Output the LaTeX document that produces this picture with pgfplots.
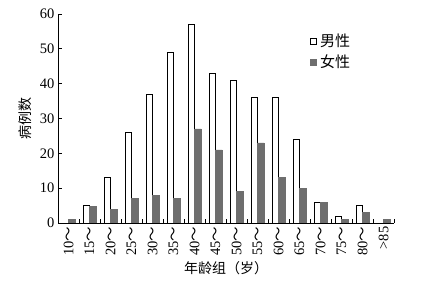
\documentclass[border=0pt]{standalone}
\usepackage{pgfplots}
\pgfplotsset{compat=1.18}
\usepackage{fontspec}
\setmainfont{Liberation Serif}
\newfontfamily\cjk{Noto Sans CJK SC}
\definecolor{fem}{HTML}{6E6E6E}
\begin{document}
\begin{tikzpicture}
\begin{axis}[
  scale only axis, width=336pt, height=209pt,
  xmin=-0.5, xmax=15.5, ymin=0, ymax=60,
  axis x line*=bottom, axis y line*=left,
  axis line style={black, line width=0.9pt},
  tick align=inside,
  xtick={0,...,15},
  xticklabels={10{\cjk ～},15{\cjk ～},20{\cjk ～},25{\cjk ～},30{\cjk ～},35{\cjk ～},40{\cjk ～},45{\cjk ～},50{\cjk ～},55{\cjk ～},60{\cjk ～},65{\cjk ～},70{\cjk ～},75{\cjk ～},80{\cjk ～},{>}85},
  major x tick style={draw=none},
  minor xtick={-0.5,0.5,...,15.5},
  minor tick length=4pt,
  minor x tick style={black, line width=0.8pt},
  ytick={0,10,...,60},
  major tick length=4pt,
  y tick style={black, line width=0.8pt},
  xticklabel style={rotate=90, anchor=east, font=\fontsize{14.5}{16}\selectfont},
  yticklabel style={font=\fontsize{14.5}{16}\selectfont},
  /pgf/number format/assume math mode=true,
  xlabel={\cjk 年龄组（岁）},
  xlabel style={font=\fontsize{14}{16}\selectfont, yshift=1pt},
  ylabel={\cjk 病例数},
  ylabel style={font=\fontsize{14}{16}\selectfont, yshift=1pt},
  legend style={at={(0.75,0.915)}, anchor=north west, draw=none, fill=none,
    font=\cjk\fontsize{15}{17}\selectfont, row sep=3pt,
    inner sep=0pt, nodes={inner xsep=3pt}},
  legend cell align=left,
]
\addplot[ybar, bar width=6.5pt, bar shift=-3.25pt, fill=white, draw=black, line width=0.9pt,
  legend image code/.code={\draw[black, fill=white, line width=0.8pt] (0pt,-3pt) rectangle (6pt,3pt);}]
  coordinates {(1,5) (2,13) (3,26) (4,37) (5,49) (6,57) (7,43) (8,41) (9,36) (10,36) (11,24) (12,6) (13,2) (14,5)};
\addlegendentry{男性}
\addplot[ybar, bar width=6.5pt, bar shift=3.25pt, fill=fem, draw=fem, line width=0.5pt,
  legend image code/.code={\fill[fem] (0pt,-3pt) rectangle (6pt,3pt);}]
  coordinates {(0,1) (1,4.8) (2,4) (3,7) (4,8) (5,7) (6,27) (7,21) (8,9) (9,23) (10,13) (11,10) (12,6) (13,1) (14,3) (15,1)};
\addlegendentry{女性}
\coordinate (ll) at (rel axis cs:0,0);
\coordinate (ur) at (rel axis cs:1,1);
\end{axis}
\pgfresetboundingbox
\path ([shift={(-58pt,-59pt)}]ll) rectangle ([shift={(54pt,14pt)}]ur);
\end{tikzpicture}
\end{document}
